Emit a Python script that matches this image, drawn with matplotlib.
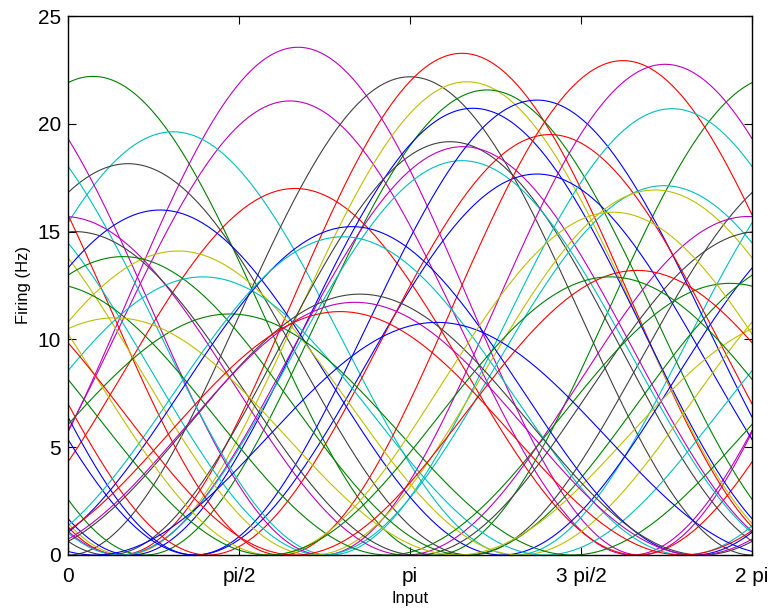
import numpy as np
import matplotlib
matplotlib.use('Agg')
import matplotlib.pyplot as plt

# tuning curves: preferred input (rad), peak rate (Hz), colour code
centers = [0.23, 2.113, 2.039, 0.965, 0.551, 2.085, 3.142, 3.619, 3.665, 3.849,
           3.720, 3.509, 3.628, 3.619, 4.308, 4.308, 4.428, 5.098, 5.484, 5.548,
           5.475, 5.392, 0.845, 6.246, 0.064, 1.010, 0.505, 1.240, 6.081, 1.488,
           0.432, 2.609, 2.526, 2.682, 2.636, 2.499, 3.390, 5.006, 5.227, 4.979]
peaks = [22.2, 23.55, 21.06, 19.63, 18.15, 17.0, 22.18, 23.27, 21.95, 21.57,
         20.72, 19.17, 18.94, 18.29, 21.1, 17.67, 19.5, 22.93, 22.76, 20.7,
         17.13, 16.93, 16.0, 15.7, 15.0, 14.1, 13.84, 12.9, 12.6, 11.18,
         11.0, 15.23, 14.76, 12.1, 11.72, 11.29, 10.79, 15.9, 13.2, 12.9]
codes = ['g', 'm', 'm', 'c', 'k', 'r', 'k', 'r', 'y', 'g',
         'b', 'k', 'm', 'c', 'b', 'b', 'r', 'r', 'm', 'c',
         'c', 'y', 'b', 'm', 'k', 'y', 'g', 'c', 'g', 'g',
         'y', 'b', 'c', 'k', 'm', 'r', 'b', 'y', 'r', 'g']

tick_pos = [0, np.pi / 2, np.pi, 3 * np.pi / 2, 2 * np.pi]
tick_labels = ['0', 'pi/2', 'pi', '3 pi/2', '2 pi']

cores = {'b': (0, 0, 1), 'g': (0, 0.5, 0), 'r': (1, 0, 0), 'c': (0, 0.75, 0.75),
         'm': (0.75, 0, 0.75), 'y': (0.75, 0.75, 0), 'k': (0.25, 0.25, 0.25)}

plt.rcParams['font.family'] = ['Liberation Sans', 'DejaVu Sans']

x = np.linspace(0, 2 * np.pi, 600)

fig = plt.figure(figsize=(7.75, 6.16), dpi=100)
ax = fig.add_axes([68 / 775, 61 / 616, 684 / 775, 539 / 616])

for c, a, k in zip(centers, peaks, codes):
    ax.plot(x, a * (1 + np.cos(x - c)) / 2, color=cores[k], lw=0.8)

ax.set_xlim(0, 2 * np.pi)
ax.set_ylim(0, 25)
ax.set_xticks(tick_pos)
ax.set_xticklabels(tick_labels)
ax.set_yticks(range(0, 26, 5))
ax.tick_params(direction='in', top=True, right=True, length=6, labelsize=15)
ax.tick_params(axis='x', pad=9)
ax.tick_params(axis='y', pad=5)
ax.set_xlabel('Input', fontsize=12, labelpad=3)
ax.set_ylabel('Firing (Hz)', fontsize=12, labelpad=5)
for s in ax.spines.values():
    s.set_linewidth(1.0)

fig.savefig('out.png', dpi=100)
